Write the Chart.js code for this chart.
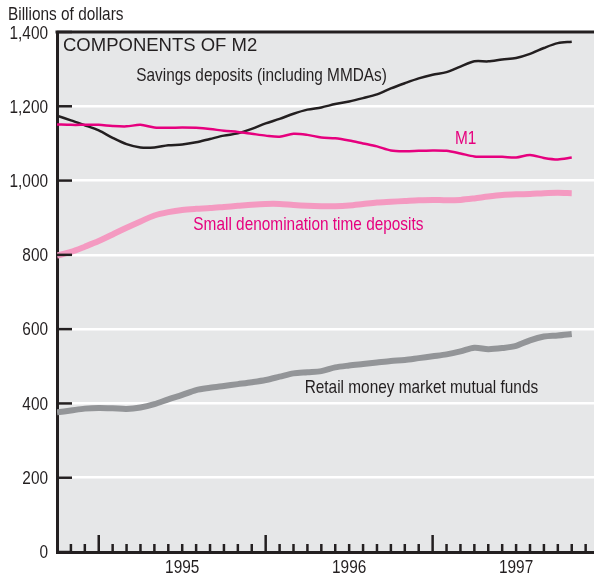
<!DOCTYPE html>
<html>
<head>
<meta charset="utf-8">
<script src="https://cdn.jsdelivr.net/npm/chart.js@4.4.1/dist/chart.umd.min.js"></script>
<style>
  html, body { margin: 0; padding: 0; background: #fff; }
  #wrap { width: 594px; height: 579px; }
</style>
</head>
<body>
<div id="wrap"><canvas id="m2Chart" width="594" height="579"></canvas></div>
<script>
// monthly values, billions of dollars (Oct 1994 .. Nov 1997)
const monthLabels = [
  'Oct 94', 'Nov 94', 'Dec 94',
  'Jan 95', 'Feb 95', 'Mar 95', 'Apr 95', 'May 95', 'Jun 95', 'Jul 95', 'Aug 95', 'Sep 95', 'Oct 95', 'Nov 95', 'Dec 95',
  'Jan 96', 'Feb 96', 'Mar 96', 'Apr 96', 'May 96', 'Jun 96', 'Jul 96', 'Aug 96', 'Sep 96', 'Oct 96', 'Nov 96', 'Dec 96',
  'Jan 97', 'Feb 97', 'Mar 97', 'Apr 97', 'May 97', 'Jun 97', 'Jul 97', 'Aug 97', 'Sep 97', 'Oct 97', 'Nov 97'
];
const savingsDeposits = [1175, 1162, 1149, 1135, 1115, 1098, 1089, 1089, 1095, 1097, 1103, 1112, 1121, 1127, 1139, 1154,
  1166, 1180, 1191, 1197, 1206, 1213, 1222, 1232, 1248, 1262, 1275, 1285, 1292, 1307, 1321, 1321, 1326, 1330, 1341, 1357, 1370, 1374];
const m1 = [1151, 1150, 1150, 1150, 1147, 1146, 1150, 1143, 1142, 1143, 1142, 1139, 1134, 1131, 1126, 1121,
  1118, 1126, 1123, 1116, 1114, 1108, 1100, 1092, 1081, 1079, 1080, 1081, 1080, 1073, 1065, 1064, 1064, 1062, 1069, 1061, 1057, 1062];
const smallTimeDeposits = [798, 808, 822, 837, 855, 873, 890, 906, 915, 921, 924, 926, 929, 932, 935, 937,
  937, 934, 932, 931, 931, 933, 937, 941, 943, 945, 947, 948, 947, 948, 952, 957, 961, 963, 964, 966, 967, 966];
const retailMoneyFunds = [376, 381, 386, 388, 387, 385, 389, 398, 411, 423, 436, 442, 447, 452, 457, 463,
  472, 481, 484, 487, 497, 502, 506, 510, 514, 517, 522, 527, 532, 540, 550, 546, 549, 555, 570, 580, 583, 587];

const yearLabels = ['1995', '1996', '1997'];
const yearStarts = [3, 15, 27];   // month index of January
const yearCenters = [9, 21, 33];  // where the year label sits
const yTicks = [0, 200, 400, 600, 800, 1000, 1200, 1400];

const INK = '#231f20';
const MAGENTA = '#e6007e';
const SANS = '"Liberation Sans", Arial, sans-serif';

const toPoints = (arr) => arr.map((v, i) => ({ x: i, y: v }));

// helvetica-narrow look: squeeze Liberation Sans horizontally
function narrowText(ctx, text, x, y, align) {
  ctx.save();
  ctx.translate(x, y);
  ctx.scale(0.81, 1);
  ctx.textAlign = align || 'left';
  ctx.fillText(text, 0, 0);
  ctx.restore();
}

// grey panel, frame, inside ticks and the text labels
const m2Frame = {
  id: 'm2Frame',
  beforeDraw(chart) {
    const { ctx, chartArea: a } = chart;
    ctx.save();
    ctx.fillStyle = '#e6e7e8';
    ctx.fillRect(a.left, a.top, a.right - a.left, a.bottom - a.top);
    ctx.restore();
  },
  afterDraw(chart) {
    const { ctx, chartArea: a } = chart;
    const xs = chart.scales.x;
    const ys = chart.scales.y;
    ctx.save();
    ctx.strokeStyle = INK;

    // top frame line
    ctx.lineWidth = 3;
    ctx.beginPath();
    ctx.moveTo(a.left - 1.5, a.top);
    ctx.lineTo(a.right, a.top);
    ctx.stroke();

    // y ticks inside
    ctx.lineWidth = 2.5;
    yTicks.forEach(v => {
      const y = ys.getPixelForValue(v);
      ctx.beginPath();
      ctx.moveTo(a.left, y);
      ctx.lineTo(a.left + 15, y);
      ctx.stroke();
    });

    // month ticks inside
    for (let i = 1; i <= Math.floor(xs.max); i++) {
      const x = xs.getPixelForValue(i);
      const len = yearStarts.includes(i) ? 17 : 8;
      ctx.beginPath();
      ctx.moveTo(x, a.bottom);
      ctx.lineTo(x, a.bottom - len);
      ctx.stroke();
    }

    ctx.fillStyle = INK;
    ctx.font = '19px ' + SANS;

    // tick labels
    ctx.textBaseline = 'middle';
    yTicks.forEach(v => {
      const y = ys.getPixelForValue(v);
      narrowText(ctx, v.toLocaleString('en-US'), a.left - 9, v === 1400 ? y + 2 : y + 1, 'right');
    });
    ctx.textBaseline = 'top';
    yearCenters.forEach((v, k) => {
      narrowText(ctx, yearLabels[k], xs.getPixelForValue(v), a.bottom + 6, 'center');
    });

    // texts
    ctx.textBaseline = 'middle';
    narrowText(ctx, 'Billions of dollars', 8, 15);

    ctx.font = '18.5px ' + SANS;
    ctx.textAlign = 'left';
    ctx.fillText('COMPONENTS OF M2', a.left + 6, ys.getPixelForValue(1362));

    ctx.font = '19px ' + SANS;
    narrowText(ctx, 'Savings deposits (including MMDAs)', xs.getPixelForValue(5.7), ys.getPixelForValue(1281));
    narrowText(ctx, 'Retail money market mutual funds', xs.getPixelForValue(17.8), ys.getPixelForValue(441));
    ctx.fillStyle = MAGENTA;
    narrowText(ctx, 'M1', xs.getPixelForValue(28.6), ys.getPixelForValue(1112));
    narrowText(ctx, 'Small denomination time deposits', xs.getPixelForValue(9.8), ys.getPixelForValue(880));
    ctx.restore();
  }
};

new Chart(document.getElementById('m2Chart'), {
  type: 'line',
  data: {
    datasets: [
      { label: 'Retail money market mutual funds', data: toPoints(retailMoneyFunds), borderColor: '#939598', borderWidth: 6 },
      { label: 'Small denomination time deposits', data: toPoints(smallTimeDeposits), borderColor: '#f49ac1', borderWidth: 6 },
      { label: 'M1', data: toPoints(m1), borderColor: MAGENTA, borderWidth: 2.5 },
      { label: 'Savings deposits (including MMDAs)', data: toPoints(savingsDeposits), borderColor: INK, borderWidth: 2.5 }
    ]
  },
  options: {
    responsive: false,
    animation: false,
    layout: { padding: { top: 32, right: 0, left: 0, bottom: 0 } },
    elements: {
      point: { radius: 0 },
      line: { tension: 0.3, borderCapStyle: 'butt', borderJoinStyle: 'round' }
    },
    plugins: {
      legend: { display: false },
      tooltip: { enabled: false },
      title: { display: false }
    },
    scales: {
      x: {
        type: 'linear',
        min: 0,
        max: 38.6,
        grid: { display: false },
        border: { display: true, color: INK, width: 3 },
        afterBuildTicks: (scale) => { scale.ticks = yearCenters.map(v => ({ value: v })); },
        afterFit: (scale) => { scale.height = 27; },
        ticks: { display: false }
      },
      y: {
        min: 0,
        max: 1400,
        grid: { color: '#ffffff', lineWidth: 2.5, drawTicks: false },
        border: { display: true, color: INK, width: 3 },
        afterBuildTicks: (scale) => { scale.ticks = yTicks.map(v => ({ value: v })); },
        afterFit: (scale) => { scale.width = 57; },
        ticks: { display: false }
      }
    }
  },
  plugins: [m2Frame]
});
</script>
</body>
</html>
